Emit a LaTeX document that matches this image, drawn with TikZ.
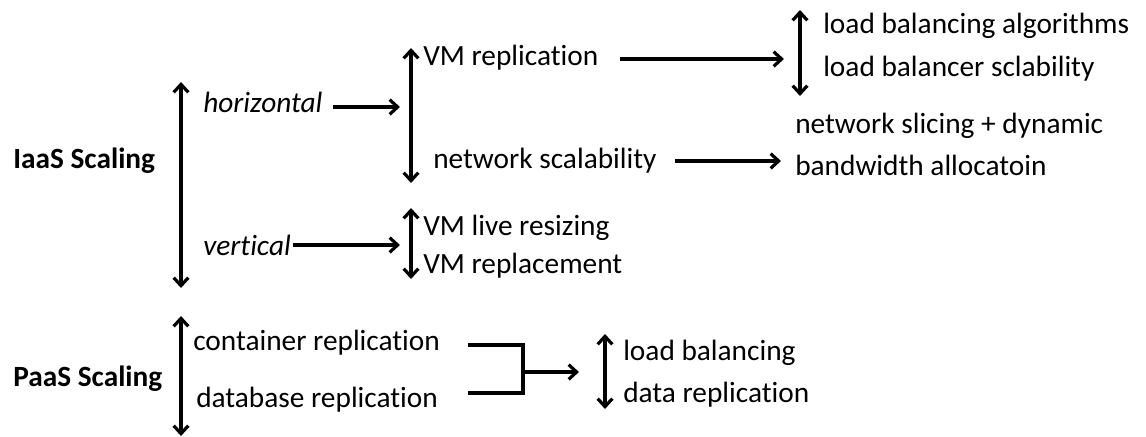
\documentclass[tikz,border=0pt]{standalone}
\usepackage{fontspec}
\setmainfont{Carlito}[Ligatures=NoCommon]
\usetikzlibrary{arrows.meta}
\begin{document}
\begin{tikzpicture}[x=0.75pt,y=-0.75pt,every node/.style={font=\fontsize{22}{31.5}\selectfont,inner sep=0pt,anchor=base west}]
    \tikzset{
      line/.style={line width=2.4pt},
      arrow/.style={-{Straight Barb[length=6pt,width=11pt,line width=2.4pt]},line width=2.4pt},
      both/.style={{Straight Barb[length=6pt,width=11pt,line width=2.4pt]}-{Straight Barb[length=6pt,width=11pt,line width=2.4pt]},line width=2.4pt}
    }
    \useasboundingbox (0,0) rectangle (1146,436);

    \node[font=\fontsize{22}{26}\selectfont\bfseries] (iaas) at (13,168) {IaaS Scaling};
    \coordinate (iaastop) at (181,82);
    \coordinate (iaasbot) at (181,288);
    \draw[both] (iaastop)--(iaasbot);

    \node[font=\fontsize{22}{26}\selectfont\itshape] (horiz) at (203,112) {horizontal};
    \node[font=\fontsize{22}{26}\selectfont\itshape] (vert) at (203,255) {vertical};

    \coordinate (htop) at (411,48);
    \coordinate (hbot) at (411,183);
    \coordinate (hstart) at (333,107);
    \coordinate (hmid) at (400,107);
    \draw[both] (htop)--(hbot);
    \draw[arrow] (hstart)--(hmid);

    \node (vmrep) at (423,65) {VM replication};
    \node (netsc) at (433,168) {network scalability};

    \coordinate (rtop) at (800,10);
    \coordinate (rbot) at (800,96);
    \draw[both] (rtop)--(rbot);
    \node (lbalg) at (823,33) {load balancing algorithms};
    \node (lbsc) at (823,76) {load balancer sclability};
    \coordinate (vstart) at (620,59);
    \coordinate (rin) at (784,59);
    \draw[arrow] (vstart)--(rin);

    \node[align=left,anchor=north west] (slice) at (795,113) {network slicing + dynamic\\bandwidth allocatoin};
    \coordinate (nstart) at (675,161);
    \coordinate (nend) at (781,161);
    \draw[arrow] (nstart)--(nend);

    \coordinate (vtop) at (411,208);
    \coordinate (vbot) at (411,279);
    \coordinate (vstart2) at (293,245);
    \coordinate (vmid) at (400,245);
    \draw[both] (vtop)--(vbot);
    \draw[arrow] (vstart2)--(vmid);
    \node (live) at (423,235) {VM live resizing};
    \node (repl) at (423,273) {VM replacement};

    \node[font=\fontsize{22}{26}\selectfont\bfseries] (paas) at (13,386) {PaaS Scaling};
    \coordinate (ptop) at (181,316);
    \coordinate (pbot) at (181,436);
    \draw[both] (ptop)--(pbot);
    \node (cont) at (193,350) {container replication};
    \node (db) at (196,407) {database replication};

    \coordinate (c1) at (468,345);
    \coordinate (c2) at (468,393);
    \coordinate (j1) at (523,345);
    \coordinate (j2) at (523,393);
    \coordinate (jm) at (523,372);
    \coordinate (pin) at (579,372);
    \draw[line] (c1)--(j1)--(j2)--(c2);
    \draw[arrow] (jm)--(pin);

    \coordinate (qtop) at (605,334);
    \coordinate (qbot) at (605,409);
    \draw[both] (qtop)--(qbot);
    \node (lb) at (623,360) {load balancing};
    \node (drep) at (623,402) {data replication};
  \end{tikzpicture}
\end{document}
